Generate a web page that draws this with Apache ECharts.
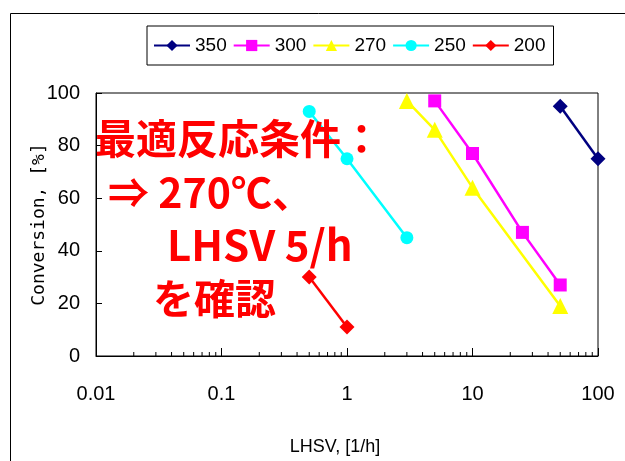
<!DOCTYPE html>
<html>
<head>
<meta charset="utf-8">
<script src="https://cdn.jsdelivr.net/npm/echarts@6/dist/echarts.min.js"></script>
<style>
    html, body {margin: 0; padding: 0; background: #fff;}
    #main {width: 625px; height: 461px;}
</style>
</head>
<body>
<div id="main"></div>
<script>
// LHSV [1/h] vs conversion [%], one series per temperature
const names = ['350', '300', '270', '250', '200'];
const lhsv350 = [50, 100];
const conv350 = [95, 75];
const lhsv300 = [5, 10, 25, 50];
const conv300 = [97, 77, 47, 27];
const lhsv270 = [3, 5, 10, 50];
const conv270 = [97, 86, 64, 19];
const lhsv250 = [0.5, 1, 3];
const conv250 = [93, 75, 45];
const lhsv200 = [0.5, 1];
const conv200 = [30, 11];
const xTickLabels = ['0.01', '0.1', '1', '10', '100'];
const minorTicks = [0.02, 0.03, 0.04, 0.05, 0.06, 0.07, 0.08, 0.09,
    0.2, 0.3, 0.4, 0.5, 0.6, 0.7, 0.8, 0.9,
    2, 3, 4, 5, 6, 7, 8, 9,
    20, 30, 40, 50, 60, 70, 80, 90];

const sans = "'Liberation Sans', Arial, sans-serif";
const jp = "'Noto Sans CJK JP', sans-serif";

function pairs(xs, ys) {
    return xs.map(function (x, i) { return [x, ys[i]]; });
}

function lineSeries(name, xs, ys, color, symbol, size) {
    return {
        name: name
        , type: 'line'
        , data: pairs(xs, ys)
        , symbol: symbol
        , symbolSize: size
        , lineStyle: {color: color, width: 2.5}
        , itemStyle: {color: color}
        , animation: false
        , z: 5
    };
}

const chart = echarts.init(document.getElementById('main'));
chart.setOption({
    animation: false
    , grid: {
        left: 96, right: 27, top: 93, bottom: 105
        , show: true, borderColor: '#000', borderWidth: 1
    }
    , legend: {
        data: names
        , left: 147, top: 26
        , padding: [10, 8, 10, 6]
        , itemGap: 6
        , itemWidth: 36, itemHeight: 14
        , borderColor: '#000', borderWidth: 1
        , textStyle: {fontFamily: sans, fontSize: 19, color: '#000'}
    }
    , xAxis: {
        type: 'log', logBase: 10, min: 0.01, max: 100
        , name: 'LHSV, [1/h]'
        , nameLocation: 'middle', nameGap: 82
        , nameTextStyle: {fontFamily: sans, fontSize: 18, color: '#000', padding: [0, 24, 0, 0]}
        , axisLine: {lineStyle: {color: '#000'}}
        , axisTick: {inside: true, length: 8, lineStyle: {color: '#000'}}
        , axisLabel: {
            margin: 28, fontFamily: sans, fontSize: 20, color: '#000'
            , formatter: function (v) {
                const i = Math.round(Math.log10(v)) + 2;
                return xTickLabels[i] || '';
            }
        }
        , splitLine: {show: false}
    }
    , yAxis: {
        type: 'value', min: 0, max: 100, interval: 20
        , name: 'Conversion, [%]'
        , nameLocation: 'middle', nameGap: 48, nameMoveOverlap: false
        , nameTextStyle: {fontFamily: "'DejaVu Sans Mono', monospace", fontSize: 18, color: '#000'}
        , axisLine: {show: true, lineStyle: {color: '#000'}}
        , axisTick: {show: true, inside: true, length: 6, lineStyle: {color: '#000'}}
        , axisLabel: {margin: 16, fontFamily: sans, fontSize: 20, color: '#000'}
        , splitLine: {show: false}
    }
    , graphic: [
        {
            type: 'rect', left: 8, top: 11, silent: true
            , shape: {width: 700, height: 500}
            , style: {fill: 'none', stroke: '#000', lineWidth: 1}
        }
        , {
            type: 'text', left: 95, top: 118, z: 100
            , style: {text: '最適反応条件：', fill: '#ff0000', font: 'bold 41px ' + jp}
        }
        , {
            type: 'text', left: 108, top: 172, z: 100
            , style: {text: '⇒ 270℃、', fill: '#ff0000', font: 'bold 41px ' + jp}
        }
        , {
            type: 'text', left: 167, top: 224, z: 100
            , style: {text: 'LHSV 5/h', fill: '#ff0000', font: 'bold 42px ' + jp}
        }
        , {
            type: 'text', left: 153, top: 278, z: 100
            , style: {text: 'を確認', fill: '#ff0000', font: 'bold 41px ' + jp}
        }
    ]
    , series: [
        lineSeries('350', lhsv350, conv350, '#000080', 'diamond', 15)
        , lineSeries('300', lhsv300, conv300, '#ff00ff', 'rect', 13)
        , lineSeries('270', lhsv270, conv270, '#ffff00', 'triangle', 16)
        , lineSeries('250', lhsv250, conv250, '#00ffff', 'circle', 13)
        , lineSeries('200', lhsv200, conv200, '#ff0000', 'diamond', 15)
        , {
            name: 'minor'
            , type: 'custom'
            , silent: true
            , clip: false
            , data: minorTicks.map(function (v) { return [v]; })
            , renderItem: function (params, api) {
                const p = api.coord([api.value(0), 0]);
                return {
                    type: 'line'
                    , shape: {x1: p[0], y1: p[1], x2: p[0], y2: p[1] - 4}
                    , style: {stroke: '#000', lineWidth: 1}
                };
            }
        }
    ]
});
</script>
</body>
</html>
